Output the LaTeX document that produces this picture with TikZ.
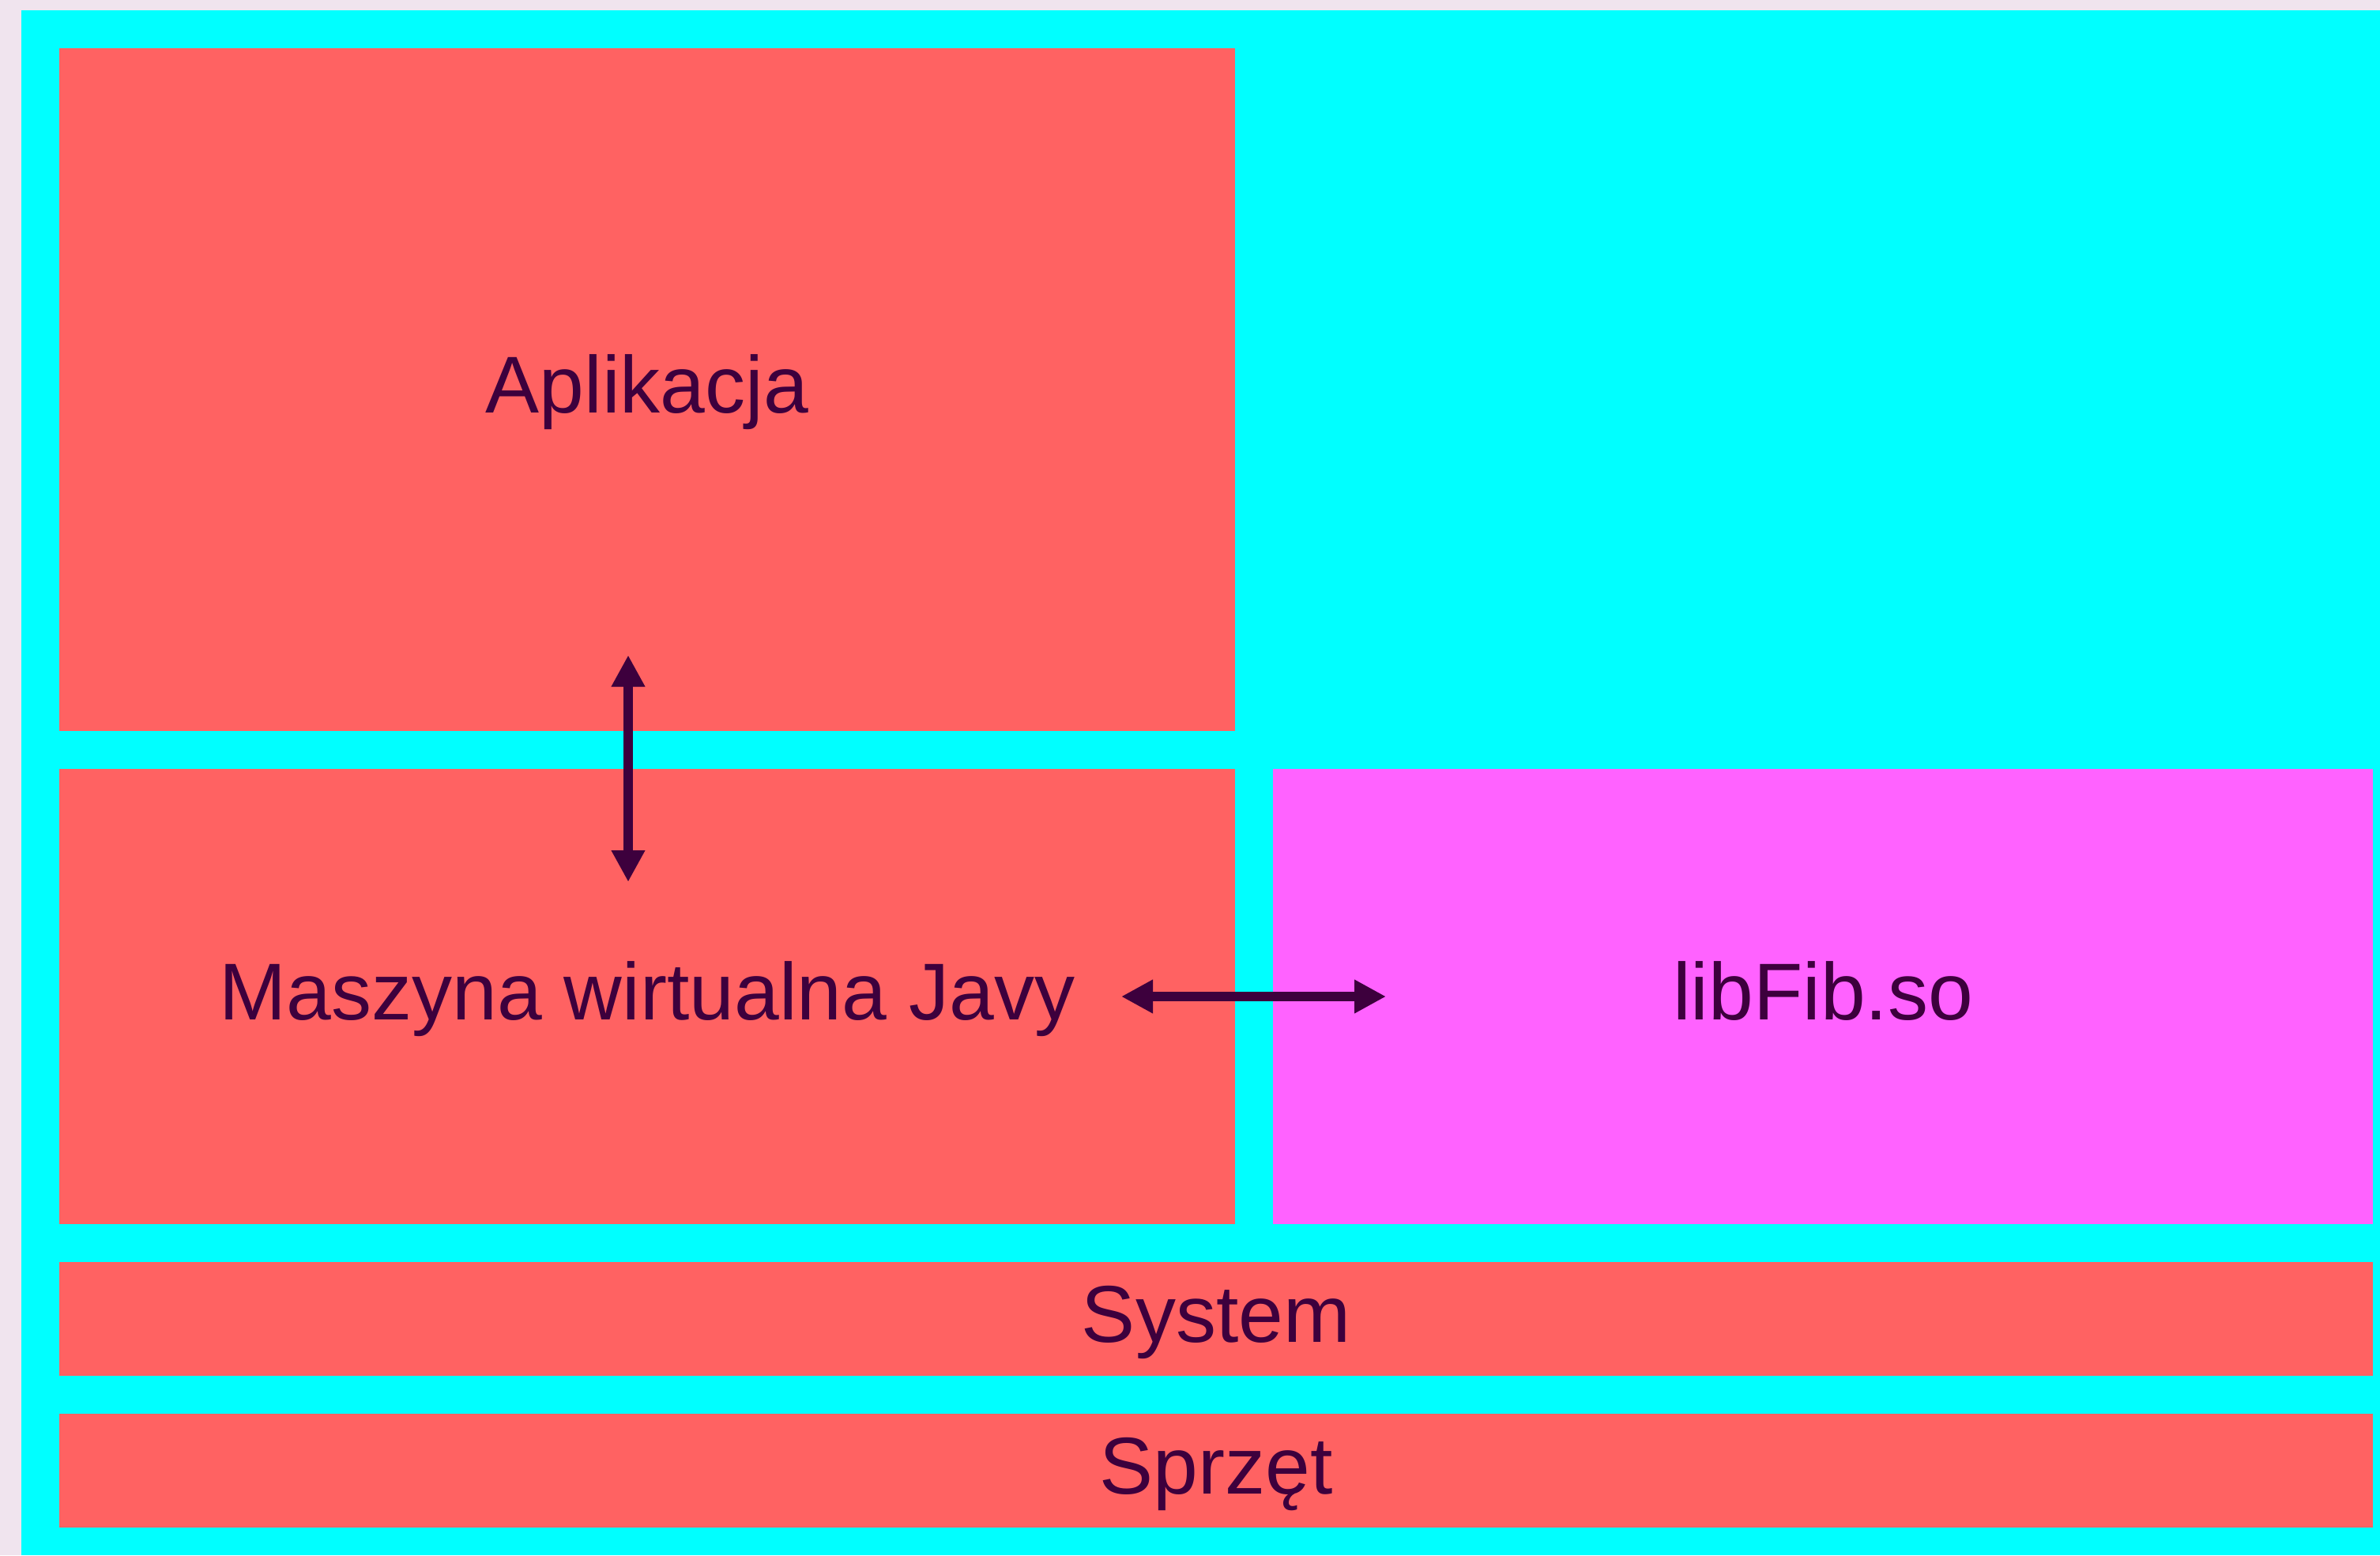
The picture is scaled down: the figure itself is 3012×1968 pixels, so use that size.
\documentclass[tikz,border=0pt]{standalone}
\usepackage{fontspec}
\setmainfont{Liberation Sans}
\usetikzlibrary{arrows.meta}
\definecolor{bgl}{HTML}{F0E4EE}
\definecolor{cy}{HTML}{00FFFF}
\definecolor{rd}{HTML}{FF6262}
\definecolor{mg}{HTML}{FF62FF}
\definecolor{ink}{HTML}{3D003D}
\tikzset{
  layer/.style={fill=rd, draw=none},
  libbox/.style={fill=mg, draw=none},
  lbl/.style={anchor=center, text=ink, inner sep=0pt,
    font=\fontsize{102}{112}\selectfont, text height=58pt, text depth=0pt},
  link/.style={draw=ink, line width=12pt,
    {Triangle[width=40pt,length=40pt]}-{Triangle[width=40pt,length=40pt]}}
}
\begin{document}
\begin{tikzpicture}[x=1pt,y=-1pt]
\fill[bgl] (0,0) rectangle (3012,1968);
\useasboundingbox (0,0) rectangle (3012,1968);
\fill[cy] (27,13) rectangle (3012,1968);
\path[layer] (75,61) rectangle (1563,925);
\node[lbl] (app) at (819,493) {Aplikacja};
\path[layer] (75,973) rectangle (1563,1549);
\node[lbl] (jvm) at (819,1261) {Maszyna wirtualna Javy};
\path[libbox] (1611,973) rectangle (3003,1549);
\node[lbl] (lib) at (2307,1261) {libFib.so};
\path[layer] (75,1597) rectangle (3003,1741);
\node[lbl] (sys) at (1539,1669) {System};
\path[layer] (75,1789) rectangle (3003,1933);
\node[lbl] (hw) at (1539,1861) {Sprzęt};
\coordinate (a1) at (795,829);
\coordinate (a2) at (795,1116);
\coordinate (b1) at (1419,1261);
\coordinate (b2) at (1754,1261);
\draw[link] (a1) -- (a2);
\draw[link] (b1) -- (b2);
\end{tikzpicture}
\end{document}
